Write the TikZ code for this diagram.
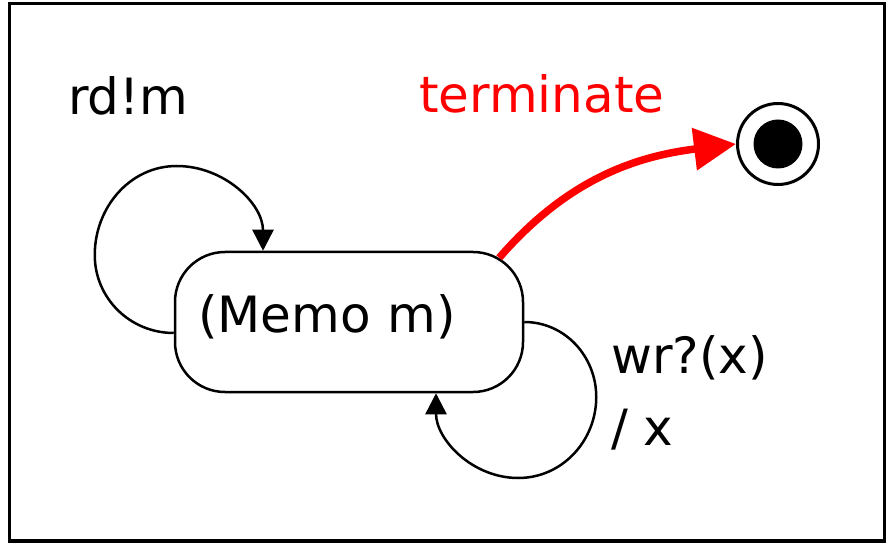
\documentclass[tikz,border=0pt]{standalone}
\usepackage{fontspec}
\setmainfont{DejaVu Sans}
\usetikzlibrary{arrows.meta}
\begin{document}
\begin{tikzpicture}[x=1pt,y=1pt,
  lbl/.style={font=\fontsize{50}{72}\selectfont, inner sep=0pt, anchor=base west},
  statebox/.style={draw, line width=2.5pt, rounded corners=50pt,
    minimum width=348pt, minimum height=140pt, inner xsep=23pt, inner ysep=0pt,
    text width=302pt, align=left, text height=38pt, text depth=18pt,
    font=\fontsize{50}{60}\selectfont},
  selfloop/.style={draw, line width=2.5pt, -{Triangle[length=21pt,width=21pt]}},
  finalring/.style={circle, draw, line width=3pt, minimum size=81pt, inner sep=0pt},
  finaldot/.style={circle, fill=black, minimum size=49pt, inner sep=0pt},
  termarrow/.style={draw=red, line width=7.5pt, -{Triangle[length=42pt,width=41pt]}}]
\useasboundingbox (0,0) rectangle (890,549);
% outer frame
\draw[line width=3.5pt] (9.5,8) rectangle (884.5,545.5);

% state and final state
\node[statebox] (m) at (349,227) {(Memo m)};
\node[finalring] (f) at (778,405) {};
\node[finaldot] (fdot) at (f) {};

% labels (the two-line label sits on the baseline of its last line)
\node[lbl] (rd) at (68,434) {rd!m};
\node[lbl, text=red] (term) at (419,436) {terminate};
\node[lbl, align=left] (wr) at (611,104) {wr?(x)\\/ x};

% self loops
\draw[selfloop] ([yshift=-11pt]m.west) to[out=180,in=270] ++(-79,78)
  to[out=90,in=180] ++(82,89) to[out=0,in=90] ([xshift=-86pt]m.north);
\draw[selfloop] (m.east) to[out=0,in=90] ++(72,-75)
  to[out=270,in=0] ++(-78,-81) to[out=180,in=270] ([xshift=87pt]m.south);

% terminate transition
\coordinate (rs) at ([shift={(-25pt,-7pt)}]m.north east);
\draw[termarrow] (rs) to[out=49,in=187] (f.west);
\end{tikzpicture}
\end{document}
